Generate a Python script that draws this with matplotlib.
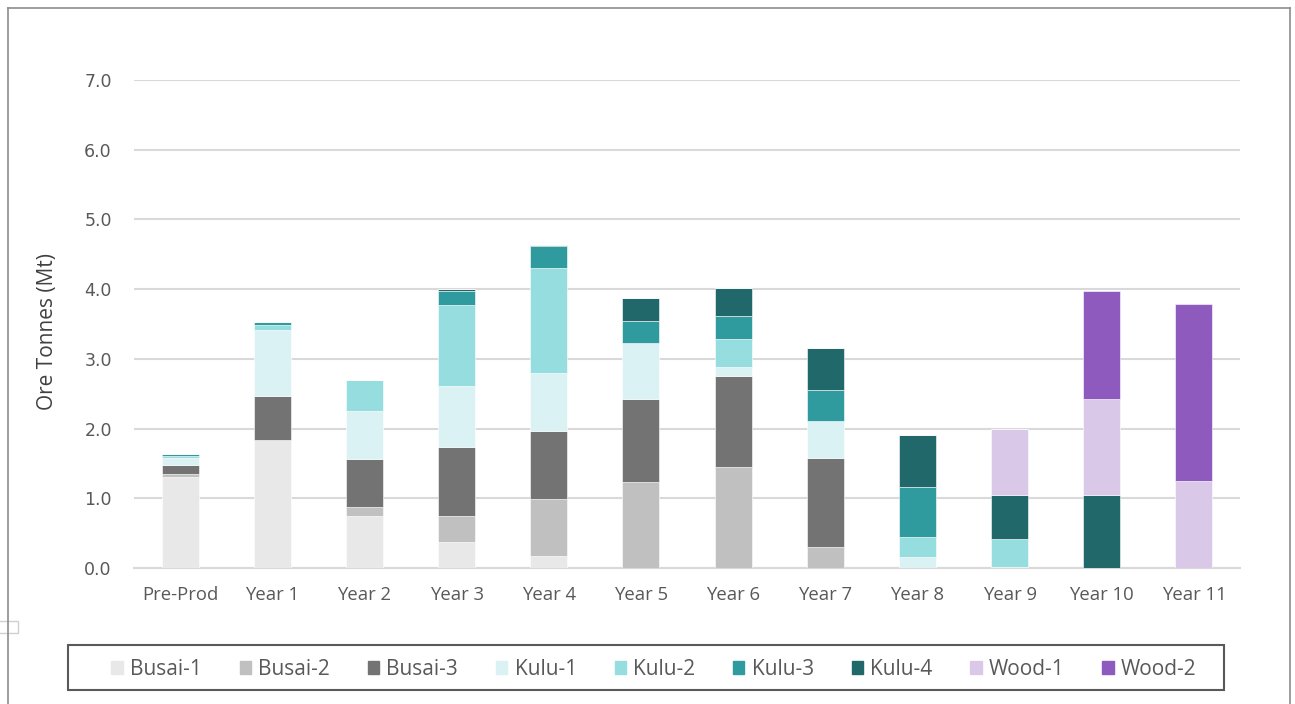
import matplotlib
matplotlib.use("Agg")
import matplotlib.pyplot as plt
from matplotlib.patches import Rectangle
from matplotlib.lines import Line2D
import numpy as np

categories = ["Pre-Prod", "Year 1", "Year 2", "Year 3", "Year 4", "Year 5",
              "Year 6", "Year 7", "Year 8", "Year 9", "Year 10", "Year 11"]

busai_1 = [1.31, 1.84, 0.74, 0.37, 0.17, 0.00, 0.00, 0.00, 0.00, 0.00, 0.00, 0.00]
busai_2 = [0.04, 0.00, 0.13, 0.37, 0.82, 1.24, 1.45, 0.30, 0.00, 0.00, 0.00, 0.00]
busai_3 = [0.13, 0.63, 0.70, 0.99, 0.98, 1.19, 1.31, 1.28, 0.00, 0.00, 0.00, 0.00]
kulu_1  = [0.10, 0.95, 0.68, 0.88, 0.82, 0.80, 0.13, 0.53, 0.16, 0.02, 0.00, 0.00]
kulu_2  = [0.02, 0.07, 0.44, 1.16, 1.51, 0.00, 0.40, 0.00, 0.28, 0.39, 0.00, 0.00]
kulu_3  = [0.03, 0.04, 0.00, 0.21, 0.32, 0.32, 0.33, 0.45, 0.72, 0.00, 0.00, 0.00]
kulu_4  = [0.00, 0.00, 0.00, 0.02, 0.01, 0.33, 0.40, 0.60, 0.75, 0.64, 1.05, 0.00]
wood_1  = [0.00, 0.00, 0.00, 0.00, 0.00, 0.00, 0.00, 0.00, 0.00, 0.94, 1.38, 1.25]
wood_2  = [0.00, 0.00, 0.00, 0.00, 0.00, 0.00, 0.00, 0.00, 0.00, 0.00, 1.54, 2.54]

series_names = ["Busai-1", "Busai-2", "Busai-3", "Kulu-1", "Kulu-2",
                "Kulu-3", "Kulu-4", "Wood-1", "Wood-2"]
series_values = [busai_1, busai_2, busai_3, kulu_1, kulu_2, kulu_3, kulu_4, wood_1, wood_2]
colors = ["#E8E8E8", "#C0C0C0", "#737373", "#DAF2F3", "#96DDDF",
          "#309B9F", "#21686B", "#D9C8E8", "#8E5ABE"]

y_ticks = [0, 1, 2, 3, 4, 5, 6, 7]

plt.rcParams['font.family'] = ['Open Sans', 'DejaVu Sans']

fig = plt.figure(figsize=(12.95, 7.04), dpi=100)
W, H = 1295, 704

def fx(px):
    return px / W

def fy(py):
    return 1 - py / H

ax = fig.add_axes([fx(134), fy(568), fx(1240) - fx(134), fy(80) - fy(568)])

x = np.arange(len(categories))
bottom = np.zeros(len(categories))
for name, vals, col in zip(series_names, series_values, colors):
    v = np.array(vals)
    ax.bar(x, v, bottom=bottom, width=0.40, color=col, label=name,
           edgecolor='white', linewidth=0.4, zorder=3)
    bottom += v

ax.set_xlim(-0.5, len(categories) - 0.5)
ax.set_ylim(0, 7)
ax.set_yticks(y_ticks)
ax.set_yticklabels([f"{t:.1f}" for t in y_ticks], fontsize=12.5, color="#595959",
                   family="DejaVu Sans")
ax.set_xticks(x)
ax.set_xticklabels(categories, fontsize=13.3, color="#595959")
ax.tick_params(axis='both', length=0)
ax.tick_params(axis='x', pad=13)
ax.tick_params(axis='y', pad=16)
ax.yaxis.grid(True, color="#D9D9D9", linewidth=1.5, zorder=0)
ax.set_axisbelow(True)
for s in ["top", "right", "left"]:
    ax.spines[s].set_visible(False)
ax.spines["bottom"].set_color("#D9D9D9")
ax.spines["bottom"].set_linewidth(1.5)

fig.text(fx(48), fy(331), "Ore Tonnes (Mt)", rotation=90, ha='center', va='center',
         fontsize=15, color="#404040")

# legend box
fig.patches.append(Rectangle((fx(68), fy(690)), fx(1224) - fx(68), fy(645) - fy(690),
                             transform=fig.transFigure, fill=False,
                             edgecolor="#595959", linewidth=1.5))
handles = [Rectangle((0, 0), 1, 1, color=c) for c in colors]
fig.legend(handles, series_names, loc='lower left',
           bbox_to_anchor=(fx(103), fy(688), fx(1205) - fx(103), fy(655) - fy(688)),
           mode='expand', ncol=9, frameon=False, fontsize=15,
           handlelength=0.55, handleheight=0.55, handletextpad=0.35,
           labelcolor="#595959", borderaxespad=0)

# outer chart border
fig.add_artist(Line2D([fx(8), fx(1290)], [fy(7.5), fy(7.5)], color="#8C8C8C", linewidth=1.2))
fig.add_artist(Line2D([fx(8), fx(8)], [fy(7.5), 0], color="#8C8C8C", linewidth=1.2))
fig.add_artist(Line2D([fx(1290), fx(1290)], [fy(7.5), 0], color="#8C8C8C", linewidth=1.2))
fig.patches.append(Rectangle((fx(-2), fy(633)), fx(20), fy(621) - fy(633),
                             transform=fig.transFigure, fill=False,
                             edgecolor="#D0D0D0", linewidth=1.0))

fig.savefig("out.png", dpi=100)
